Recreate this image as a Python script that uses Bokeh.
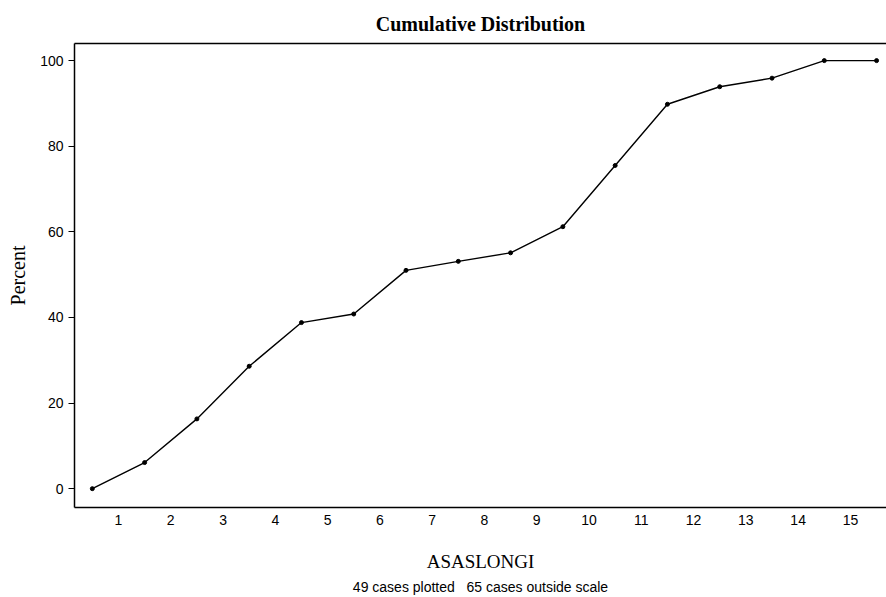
from bokeh.plotting import figure
from bokeh.models import Range1d, FixedTicker, LinearAxis, Title, ColumnDataSource
from bokeh.embed import file_html
from bokeh.resources import INLINE

# Data (cumulative percent at bin boundaries)
x_vals = [0.5, 1.5, 2.5, 3.5, 4.5, 5.5, 6.5, 7.5, 8.5, 9.5, 10.5, 11.5, 12.5, 13.5, 14.5, 15.5]
percent = [0, 6.1, 16.3, 28.6, 38.8, 40.8, 51.0, 53.1, 55.1, 61.2, 75.5, 89.8, 93.9, 95.9, 100, 100]
x_ticks = list(range(1, 16))
y_ticks = [0, 20, 40, 60, 80, 100]

title_text = "Cumulative Distribution"
x_label = "ASASLONGI"
y_label = "Percent"
footnote = "49 cases plotted\u00a0\u00a0 65 cases outside scale"

src = ColumnDataSource(dict(x=x_vals, y=percent))

p = figure(width=886, height=597, output_backend="svg", toolbar_location=None,
           x_range=Range1d(0.159, 15.69), y_range=Range1d(-4.4, 104.0),
           min_border_left=74, min_border_right=0, min_border_top=43, min_border_bottom=90)

p.outline_line_color = None
p.background_fill_color = "white"
p.border_fill_color = "white"
p.xgrid.visible = False
p.ygrid.visible = False

# title
p.title.text = title_text
p.title.align = "center"
p.title.text_font = "Liberation Serif"
p.title.text_font_style = "bold"
p.title.text_font_size = "20px"
p.title.text_color = "black"
p.title.standoff = 18

# x axis (bottom)
xa = p.below[0]
xa.ticker = FixedTicker(ticks=x_ticks)
xa.major_tick_line_color = None
xa.minor_tick_line_color = None
xa.axis_line_color = "black"
xa.axis_line_width = 1.5
xa.major_label_text_font = "Liberation Sans"
xa.major_label_text_font_size = "14px"
xa.major_label_text_color = "black"
xa.major_label_standoff = 1
xa.axis_label = x_label
xa.axis_label_text_font = "Liberation Serif"
xa.axis_label_text_font_style = "normal"
xa.axis_label_text_font_size = "19px"
xa.axis_label_text_color = "black"
xa.axis_label_standoff = 23

# y axis
ya = p.left[0]
ya.ticker = FixedTicker(ticks=y_ticks)
ya.major_tick_out = 6
ya.major_tick_in = 0
ya.major_tick_line_color = "black"
ya.major_tick_line_width = 1.2
ya.minor_tick_line_color = None
ya.axis_line_color = "black"
ya.axis_line_width = 1.5
ya.major_label_text_font = "Liberation Sans"
ya.major_label_text_font_size = "14px"
ya.major_label_text_color = "black"
ya.major_label_standoff = 5
ya.axis_label = y_label
ya.axis_label_text_font = "Liberation Serif"
ya.axis_label_text_font_style = "normal"
ya.axis_label_text_font_size = "20px"
ya.axis_label_text_color = "black"
ya.axis_label_standoff = 8

# top border line via an empty axis
top = LinearAxis(ticker=FixedTicker(ticks=[]), axis_line_color="black", axis_line_width=1.5,
                 major_tick_line_color=None, minor_tick_line_color=None)
p.add_layout(top, "above")

# footnote
p.add_layout(Title(text=footnote, align="center", offset=5, standoff=4,
                   text_font="Liberation Sans", text_font_size="14px",
                   text_font_style="normal", text_color="black"), "below")

p.line("x", "y", source=src, line_color="black", line_width=1.4)
p.scatter("x", "y", source=src, size=4, color="black")

open("out.html", "w").write(file_html(p, INLINE))
